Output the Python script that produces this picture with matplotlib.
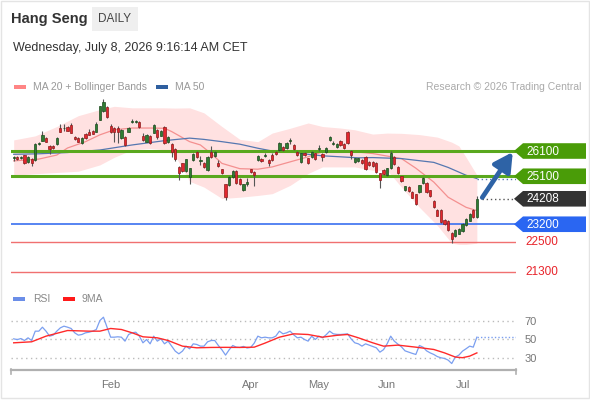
# Hang Seng daily chart with Bollinger bands, MA50, key levels and RSI panel
import numpy as np
import matplotlib
matplotlib.use("Agg")
import matplotlib.pyplot as plt
from matplotlib.patches import Rectangle, Polygon
from matplotlib.lines import Line2D

plt.rcParams['font.family'] = ['Liberation Sans', 'DejaVu Sans']

# daily sessions, index 0 = 22 Dec, index 129 = 8 Jul
opens = [25810, 25870, 25830, 25940, 25670, 25800, 25740, 26370, 26510, 26630,
         26310, 26300, 26380, 27010, 27000, 27050, 27140, 26670, 26610, 26410,
         26770, 26870, 26900, 26870, 27340, 27670, 27830, 27100, 27030, 27030,
         26610, 26670, 26870, 27260, 27250, 27250, 26700, 26470, 26700, 26830,
         26940, 26700, 27050, 26450, 26370, 26170, 25470, 25610, 25300, 25070,
         25740, 26070, 25720, 25630, 25340, 26070, 25900, 25610, 25370, 24780,
         24740, 25070, 25310, 25010, 24540, 24800, 25370, 25270, 25740, 25800,
         25920, 25740, 25940, 26070, 26140, 26250, 26210, 26490, 26340, 26070,
         25670, 26030, 25810, 25870, 26010, 26190, 25980, 26070, 26540, 26390,
         26260, 26510, 26390, 26870, 26110, 25670, 25700, 25740, 25870, 25660,
         25670, 25630, 25210, 25340, 25140, 25410, 25870, 25470, 25100, 24540,
         24670, 24470, 24380, 24470, 24830, 24830, 24540, 24140, 23770, 23770,
         23370, 23340, 22870, 22740, 22830, 22940, 23180, 23340, 23770, 23470]
highs = [25900, 25920, 25900, 25960, 25900, 25830, 26400, 26450, 26880, 26660,
         26340, 26330, 26650, 27170, 27150, 27080, 27200, 26700, 26640, 26660,
         26800, 26980, 26940, 27250, 27900, 28170, 27900, 27150, 27060, 27080,
         26980, 26700, 27050, 27380, 27330, 27290, 26820, 26780, 26730, 27180,
         26960, 26940, 27080, 26700, 26400, 26200, 25500, 25640, 25800, 25440,
         26010, 26100, 25900, 25660, 25900, 26300, 26100, 25740, 25400, 24810,
         25100, 25340, 25340, 25040, 24810, 25050, 25400, 25300, 25940, 25830,
         26040, 25770, 26010, 26100, 26440, 26280, 26440, 26620, 26370, 26100,
         26040, 26060, 25840, 26100, 26040, 26340, 26010, 26240, 26680, 26480,
         26420, 26540, 26420, 26900, 26140, 25840, 25840, 25770, 25900, 25690,
         25700, 25660, 25240, 25370, 25440, 26100, 25900, 25500, 25130, 24730,
         24700, 24500, 24410, 24770, 25080, 24860, 24570, 24170, 23800, 23800,
         23400, 23370, 22900, 23000, 23040, 23240, 23440, 23640, 23800, 24300]
lows = [25720, 25740, 25790, 25600, 25640, 25520, 25720, 26330, 26480, 26450,
        25970, 26180, 26350, 26850, 26900, 26880, 26800, 26540, 26440, 26390,
        26590, 26720, 26760, 26850, 27320, 27640, 27400, 26830, 26470, 26400,
        26580, 26310, 26840, 27200, 27200, 27030, 26500, 26440, 26380, 26800,
        26560, 26680, 26380, 26420, 25870, 25720, 24970, 25280, 25270, 24800,
        25710, 25840, 25550, 25420, 25310, 25840, 25870, 25450, 25180, 24170,
        24710, 25040, 24800, 24750, 24510, 24720, 25230, 24700, 25710, 25680,
        25860, 25520, 25700, 25940, 26110, 26110, 26180, 26380, 26140, 25910,
        25640, 25910, 25600, 25840, 25740, 26100, 25700, 26040, 26510, 26330,
        26230, 26310, 26180, 26380, 25800, 25640, 25670, 25600, 25340, 25500,
        25470, 25240, 24630, 25150, 25110, 25380, 25550, 25180, 24880, 24510,
        24480, 24220, 23980, 24440, 24800, 24440, 24270, 23840, 23510, 23240,
        23180, 22940, 22470, 22710, 22800, 22910, 23150, 23310, 23440, 23440]
closes = [25850, 25780, 25850, 25630, 25870, 25610, 26370, 26400, 26740, 26470,
          26170, 26210, 26630, 26870, 27020, 26900, 26830, 26570, 26470, 26630,
          26610, 26740, 26780, 27170, 27870, 28050, 27430, 26850, 26850, 26870,
          26940, 26340, 27000, 27300, 27270, 27050, 26540, 26740, 26410, 27140,
          26670, 26910, 26410, 26670, 26070, 25770, 25230, 25310, 25770, 25410,
          25980, 25870, 25740, 25450, 25870, 25870, 26060, 25500, 25210, 24270,
          25070, 25310, 24830, 24780, 24780, 24880, 25260, 25140, 25910, 25710,
          25940, 25630, 25740, 25970, 26410, 26140, 26410, 26510, 26170, 25940,
          26010, 25940, 25630, 26070, 25770, 26210, 25870, 26210, 26650, 26410,
          26390, 26340, 26210, 26410, 25940, 25810, 25810, 25630, 25370, 25540,
          25500, 25270, 24970, 25180, 25410, 26030, 25580, 25210, 24910, 24700,
          24510, 24250, 24010, 24740, 25050, 24470, 24300, 23870, 23540, 23270,
          23210, 22970, 22610, 22970, 23010, 23210, 23410, 23610, 23470, 24208]

# moving averages / bands
ma20_x = [0, 7, 12, 15, 20, 24, 28, 33, 38, 42, 44, 49, 52, 55, 58, 63, 68, 72,
          77, 82, 86, 91, 95, 100, 104, 108, 112, 117, 121, 126, 129]
ma20_y = [25710, 25780, 25940, 26220, 26470, 26740, 26940, 27010, 27010, 27000,
          26870, 26470, 26340, 26000, 25610, 25400, 25380, 25470, 25670, 25870,
          26070, 26100, 26070, 26000, 25900, 25800, 25420, 24870, 24270, 23870, 23740]
bb_x = [0, 6, 12, 18, 24, 28, 33, 38, 42, 45, 49, 53, 58, 63, 68, 72, 77, 82, 86,
        91, 95, 100, 104, 108, 113, 118, 122, 124, 126, 129]
bb_upper = [26540, 26700, 27070, 27500, 27740, 27870, 27810, 27810, 27810, 27800,
            27810, 27610, 27070, 26560, 26470, 26810, 27000, 27210, 27070, 27010,
            26940, 26770, 26810, 26800, 26750, 26650, 26450, 26300, 25850, 25150]
bb_lower = [25140, 25200, 25250, 25300, 25550, 25850, 26150, 26200, 26150, 25900,
            24900, 24670, 24220, 24270, 24340, 24410, 24740, 25210, 25470, 25470,
            25470, 25340, 25340, 24670, 23870, 23150, 22450, 22400, 22400, 22450]
ma50_x = [0, 7, 15, 24, 33, 42, 49, 53, 58, 63, 68, 72, 77, 82, 86, 91, 96, 100,
          108, 117, 121, 126, 129]
ma50_y = [25970, 25990, 26040, 26140, 26340, 26510, 26610, 26560, 26470, 26370,
          26210, 26100, 26070, 25970, 25910, 25870, 25830, 25840, 25800, 25650,
          25450, 25140, 25010]

# RSI panel
rsi_x = list(range(130))
rsi_y = [50.7, 49.9, 51, 48.9, 51.8, 48.9, 59, 59, 63.3, 59,
         53.6, 54.7, 59, 62.6, 64.4, 63.3, 61.9, 57.2, 54.7, 55.4,
         57.2, 57.9, 59, 60.8, 70.5, 74.1, 63.3, 52.5, 52.5, 52.9,
         52.5, 48.2, 55.4, 57.2, 57.9, 53.6, 46.4, 50, 45.3, 53.6,
         48.2, 50.7, 45.3, 48.2, 42.8, 37.4, 34.5, 37.4, 42.8, 39.9,
         45.3, 44.6, 42.8, 42.8, 47.5, 48.9, 48.9, 43.5, 38.8, 33.1,
         38.8, 43.5, 41.7, 41.4, 42.5, 40.8, 41.4, 46.1, 53.6, 51.8,
         52.5, 51.8, 51.8, 53.6, 59, 56.1, 57.2, 59, 55, 51.8,
         52.5, 50, 48.2, 53.6, 50, 53.6, 51.8, 55, 59, 56.1,
         55.5, 55.4, 55.8, 56.1, 50.5, 46.4, 45.3, 42.8, 45.3, 43.9,
         42.5, 41, 36.3, 39, 45.3, 53.6, 48.2, 45, 42, 37.7,
         36.3, 35, 33.8, 43.5, 41.7, 37.7, 35.5, 33.8, 31.5, 30.2,
         29.5, 27.7, 24, 31, 33.1, 37.4, 40, 42.8, 41.7, 52.5]
rsi_ma_x = [0, 5, 9, 15, 21, 24, 27, 30, 33, 36, 40, 43, 47, 51, 55, 59, 63, 67,
            70, 74, 78, 82, 86, 90, 93, 96, 100, 103, 107, 112, 117, 120, 123,
            125, 127, 129]
rsi_ma_y = [46.4, 47.5, 53.6, 59.7, 59, 59, 61.9, 60.8, 57.2, 52.9, 51.8, 48.9,
            42.8, 41, 41.4, 41.5, 41.4, 41.7, 46.1, 52.5, 56.1, 55.4, 52.5, 54.5,
            55.4, 51.8, 46.4, 42.8, 43.9, 41.7, 39.2, 35.5, 31, 30.3, 32, 35.5]

month_labels = ["Feb", "Apr", "May", "Jun", "Jul"]
month_pos = [27, 66, 85, 104, 125]

resistances = [26100, 25100]
support = 23200
red_levels = [22500, 21300]
last_price = 24208
target = 26100

W, H = 590, 400
GREEN_LINE = '#5aa81e'
GREEN_BOX = '#4a9c08'
BLUE_LINE = '#3a6ff0'
BLUE_BOX = '#2a66f2'
RED_LINE = '#f07070'


def draw_candles(ax):
    x = np.arange(len(closes))
    o = np.array(opens)
    c = np.array(closes)
    up = c >= o
    ax.vlines(x, lows, highs, color='#555555', lw=0.8, zorder=4)
    body = np.maximum(np.abs(c - o), 30)
    bottom = np.minimum(o, c)
    ax.bar(x[up], body[up], bottom=bottom[up], width=0.62, color='#2f7d32',
           edgecolor='#1c4a1e', lw=0.5, zorder=5)
    ax.bar(x[~up], body[~up], bottom=bottom[~up], width=0.62, color='#e3262e',
           edgecolor='#8a1c1c', lw=0.5, zorder=5)


def price_label(deco, ax, price, text, face, color='white'):
    py = H - ax.transData.transform((0, price))[1]
    if face is None:
        deco.text(525, py, text, color=color, fontsize=8.5, va='center', ha='left')
        return
    pts = [(514, py), (523, py - 7.8), (586, py - 7.8), (586, py + 7.8), (523, py + 7.8)]
    deco.add_patch(Polygon(pts, closed=True, facecolor=face, edgecolor='none', zorder=3))
    deco.text(526, py + 0.5, text, color=color, fontsize=8.5, va='center', ha='left', zorder=4)


def main():
    fig = plt.figure(figsize=(W / 100, H / 100), dpi=100)
    fig.patch.set_facecolor('white')

    ax = fig.add_axes([11 / W, 1 - 285 / H, 505 / W, 190 / H])
    rsi = fig.add_axes([11 / W, 1 - 370 / H, 505 / W, 70 / H])
    deco = fig.add_axes([0, 0, 1, 1], zorder=10)
    deco.set_xlim(0, W)
    deco.set_ylim(H, 0)
    deco.axis('off')
    deco.patch.set_alpha(0)

    # main price panel
    ax.set_xlim(-0.75, 139.9)
    ax.set_ylim(20794, 28318)
    ax.axis('off')
    ax.fill_between(bb_x, bb_lower, bb_upper, color='#ffe1e1', lw=0, zorder=1)
    ax.plot(ma20_x, ma20_y, color='#f49090', lw=0.9, zorder=2)
    ax.plot(ma50_x, ma50_y, color='#5577b0', lw=0.9, zorder=2)
    ax.plot([129, 139.9], [ma50_y[-1]] * 2, color='#5577b0', lw=1, ls=(0, (1, 2)), zorder=2)
    for lvl in resistances:
        ax.axhline(lvl, color=GREEN_LINE, lw=2.2, zorder=3)
    ax.axhline(support, color=BLUE_LINE, lw=1.2, zorder=3)
    for lvl in red_levels:
        ax.axhline(lvl, color=RED_LINE, lw=1, zorder=3)
    draw_candles(ax)
    ax.plot([130.3, 139.9], [last_price] * 2, color='#555555', lw=1, ls=(0, (1, 2)), zorder=3)
    ax.annotate('', xy=(139.0, target - 40), xytext=(130.5, last_price + 50),
                arrowprops=dict(arrowstyle='-|>,head_length=0.7,head_width=0.38',
                                color='#2e63a6', lw=3.4, mutation_scale=16,
                                shrinkA=0, shrinkB=0), zorder=6)

    # RSI panel
    rsi.set_xlim(-0.75, 139.9)
    rsi.set_ylim(17.0, 92.7)
    for s in rsi.spines.values():
        s.set_visible(False)
    rsi.set_yticks([30, 50, 70])
    rsi.yaxis.tick_right()
    rsi.tick_params(axis='y', length=0, pad=6, labelsize=8, labelcolor='#777777')
    rsi.set_xticks(month_pos, month_labels)
    rsi.tick_params(axis='x', length=0, pad=7, labelsize=8, labelcolor='#777777')
    rsi.grid(axis='y', color='#bbbbbb', lw=1, ls=(0, (1, 2.5)))
    rsi.plot(rsi_x, rsi_y, color='#7b9ff0', lw=0.9)
    rsi.plot([129, 139.9], [rsi_y[-1]] * 2, color='#7b9ff0', lw=1, ls=(0, (1, 1.5)))
    rsi.plot(rsi_ma_x, rsi_ma_y, color='#ff2a2a', lw=1)

    # x axis line
    deco.add_line(Line2D([11, 516], [370, 370], color='#b0b0b0', lw=1.6))
    deco.add_line(Line2D([11, 11], [369, 374], color='#b0b0b0', lw=1.2))
    deco.add_line(Line2D([516, 516], [369, 374], color='#b0b0b0', lw=1.2))

    # right-hand level labels
    price_label(deco, ax, 26100, '26100', GREEN_BOX)
    price_label(deco, ax, 25100, '25100', GREEN_BOX)
    price_label(deco, ax, last_price, str(last_price), '#333333')
    price_label(deco, ax, 23200, '23200', BLUE_BOX)
    price_label(deco, ax, 22500, '22500', None, color='#e8232a')
    price_label(deco, ax, 21300, '21300', None, color='#e8232a')

    # header
    deco.text(11, 18.5, 'Hang Seng', fontsize=10.5, fontweight='bold', color='#333333', va='center')
    deco.add_patch(Rectangle((92, 7), 46, 24, facecolor='#efefef', edgecolor='none'))
    deco.text(115, 19.5, 'DAILY', fontsize=8.5, color='#444444', va='center', ha='center')
    deco.text(13, 48.5, 'Wednesday, July 8, 2026 9:16:14 AM CET', fontsize=9, color='#333333', va='center')

    # legends
    deco.add_patch(Rectangle((14, 84.5), 12, 4, facecolor='#ff8585', edgecolor='none'))
    deco.text(33, 86.5, 'MA 20 + Bollinger Bands', fontsize=7.5, color='#999999', va='center')
    deco.add_patch(Rectangle((156, 84.5), 12, 4, facecolor='#2f5f9f', edgecolor='none'))
    deco.text(175, 86.5, 'MA 50', fontsize=7.5, color='#999999', va='center')
    deco.text(581, 86.5, 'Research \u00a9 2026 Trading Central', fontsize=7.5, color='#aaaaaa',
              va='center', ha='right')
    deco.add_patch(Rectangle((13, 297), 12, 4, facecolor='#6b8ee8', edgecolor='none'))
    deco.text(33, 299, 'RSI', fontsize=7.5, color='#888888', va='center')
    deco.add_patch(Rectangle((63, 297), 12, 4, facecolor='#ff1a1a', edgecolor='none'))
    deco.text(82, 299, '9MA', fontsize=7.5, color='#888888', va='center')

    # frame
    deco.add_patch(Rectangle((0.5, 0.5), 588.5, 397, facecolor='none', edgecolor='#e4e4e4', lw=1))

    fig.savefig('out.png', dpi=100)


if __name__ == "__main__":
    main()
